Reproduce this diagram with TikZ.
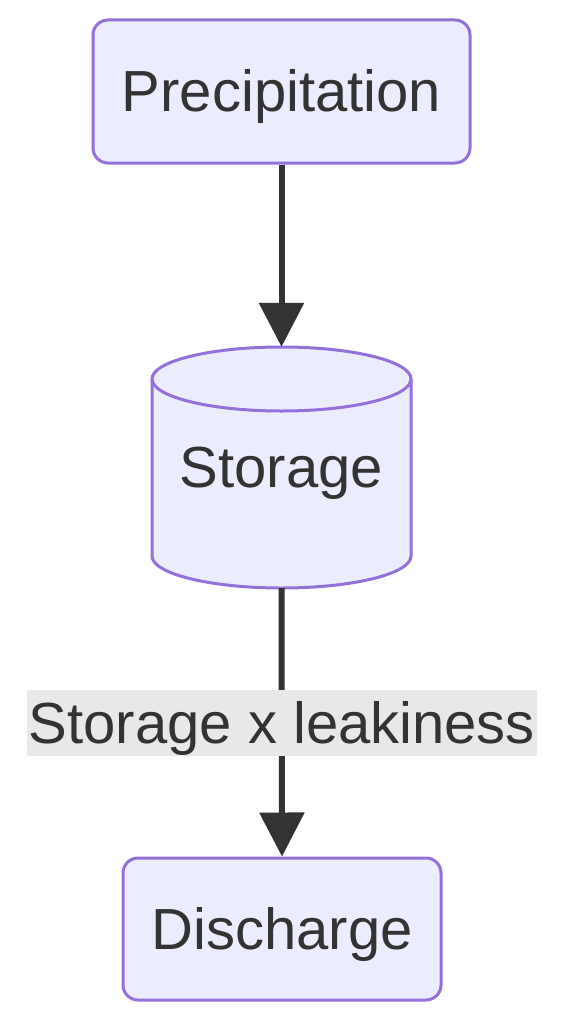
\documentclass[tikz,border=0pt]{standalone}
\usepackage{fontspec}
\setmainfont{Liberation Sans}
\usetikzlibrary{arrows.meta}
\definecolor{nodefill}{HTML}{ECECFF}
\definecolor{nodeline}{HTML}{9370DB}
\definecolor{txt}{HTML}{333333}
\definecolor{lblbg}{HTML}{E8E8E8}
\begin{document}
\begin{tikzpicture}[x=1pt,y=-1pt,
  txtstyle/.style={text=txt,font=\fontsize{58}{60}\selectfont,text height=52pt,text depth=12pt},
  box/.style={txtstyle,draw=nodeline,fill=nodefill,line width=3pt,rounded corners=15pt,inner sep=0pt},
  link/.style={draw=txt,line width=6pt,-{Triangle[width=44pt,length=44pt]}},
  lbl/.style={txtstyle,fill=lblbg,inner sep=0pt,minimum width=510pt,minimum height=66pt}]
\useasboundingbox (0,0) rectangle (566,1030);
\node[box,minimum width=377pt,minimum height=143pt] (p) at (281.5,91.5) {Precipitation};
% cylinder
\draw[draw=nodeline,fill=nodefill,line width=3pt]
  (152,379) -- (152,556) arc[start angle=180,end angle=360,x radius=129.5pt,y radius=32pt]
  -- (411,379) arc[start angle=0,end angle=180,x radius=129.5pt,y radius=32pt] -- cycle;
\draw[draw=nodeline,line width=3pt] (152,379) arc[start angle=180,end angle=360,x radius=129.5pt,y radius=32pt];
\node[inner sep=0pt,minimum width=259pt,minimum height=241pt] (s) at (281.5,467.5) {};
\node[txtstyle,inner sep=0pt] (st) at (281.5,467) {Storage};
\node[box,minimum width=318pt,minimum height=142pt] (d) at (282,929) {Discharge};
\draw[link] (p.south) -- (s.north);
\draw[link] (s.south) -- (d.north);
\node[lbl] (l) at (282,723) {Storage x leakiness};
\end{tikzpicture}
\end{document}
